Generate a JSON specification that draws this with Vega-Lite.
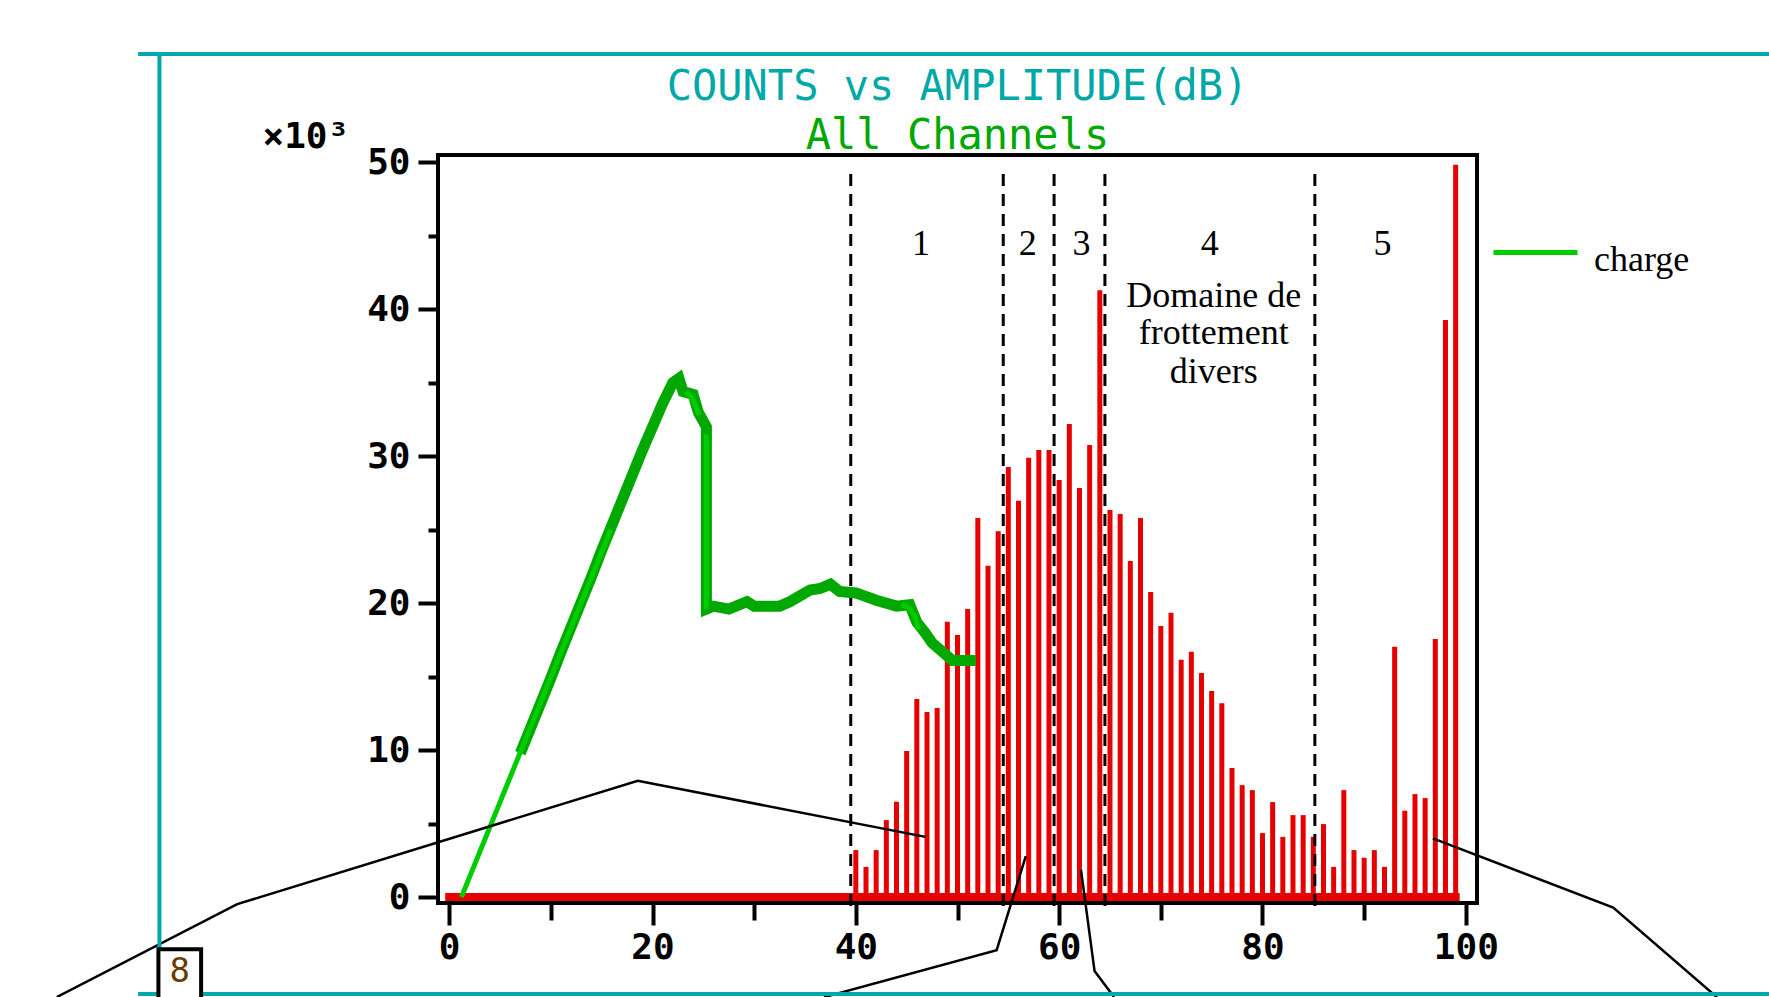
{
  "$schema": "https://vega.github.io/schema/vega-lite/v6.json",
  "width": 1039,
  "height": 748,
  "autosize": {"type": "none"},
  "padding": {"left": 438, "top": 155, "right": 292, "bottom": 94},
  "background": "white",
  "config": {"view": {"stroke": "black", "strokeWidth": 4}},
  "title": {
    "text": "COUNTS vs AMPLITUDE(dB)",
    "subtitle": "All Channels",
    "color": "#00A8A8",
    "subtitleColor": "#00A800",
    "font": "DejaVu Sans Mono",
    "subtitleFont": "DejaVu Sans Mono",
    "fontSize": 42,
    "subtitleFontSize": 42,
    "fontWeight": "normal",
    "subtitleFontWeight": "normal",
    "anchor": "middle",
    "frame": "group",
    "offset": -112,
    "subtitlePadding": 7
  },
  "datasets": {
    "bars": [
      {"amp":0,"count":0},{"amp":1,"count":0},{"amp":2,"count":0},{"amp":3,"count":0},{"amp":4,"count":0},
      {"amp":5,"count":0},{"amp":6,"count":0},{"amp":7,"count":0},{"amp":8,"count":0},{"amp":9,"count":0},
      {"amp":10,"count":0},{"amp":11,"count":0},{"amp":12,"count":0},{"amp":13,"count":0},{"amp":14,"count":0},
      {"amp":15,"count":0},{"amp":16,"count":0},{"amp":17,"count":0},{"amp":18,"count":0},{"amp":19,"count":0},
      {"amp":20,"count":0},{"amp":21,"count":0},{"amp":22,"count":0},{"amp":23,"count":0},{"amp":24,"count":0},
      {"amp":25,"count":0},{"amp":26,"count":0},{"amp":27,"count":0},{"amp":28,"count":0},{"amp":29,"count":0},
      {"amp":30,"count":0},{"amp":31,"count":0},{"amp":32,"count":0},{"amp":33,"count":0},{"amp":34,"count":0},
      {"amp":35,"count":0},{"amp":36,"count":0},{"amp":37,"count":0},{"amp":38,"count":0},{"amp":39,"count":0},
      {"amp":40,"count":3.2},{"amp":41,"count":2.06},{"amp":42,"count":3.2},{"amp":43,"count":5.24},{"amp":44,"count":6.49},
      {"amp":45,"count":9.94},{"amp":46,"count":13.48},{"amp":47,"count":12.6},{"amp":48,"count":12.87},{"amp":49,"count":18.74},
      {"amp":50,"count":17.84},{"amp":51,"count":19.6},{"amp":52,"count":25.8},{"amp":53,"count":22.55},{"amp":54,"count":24.9},
      {"amp":55,"count":29.27},{"amp":56,"count":26.98},{"amp":57,"count":29.9},{"amp":58,"count":30.43},{"amp":59,"count":30.43},
      {"amp":60,"count":28.39},{"amp":61,"count":32.2},{"amp":62,"count":27.84},{"amp":63,"count":30.77},{"amp":64,"count":41.3},
      {"amp":65,"count":26.34},{"amp":66,"count":26.07},{"amp":67,"count":22.87},{"amp":68,"count":25.8},{"amp":69,"count":20.76},
      {"amp":70,"count":18.45},{"amp":71,"count":19.35},{"amp":72,"count":16.15},{"amp":73,"count":16.7},{"amp":74,"count":15.25},
      {"amp":75,"count":14.02},{"amp":76,"count":13.2},{"amp":77,"count":8.78},{"amp":78,"count":7.62},{"amp":79,"count":7.28},
      {"amp":80,"count":4.36},{"amp":81,"count":6.47},{"amp":82,"count":4.1},{"amp":83,"count":5.58},{"amp":84,"count":5.58},
      {"amp":85,"count":4.1},{"amp":86,"count":4.97},{"amp":87,"count":2.06},{"amp":88,"count":7.28},{"amp":89,"count":3.2},
      {"amp":90,"count":2.68},{"amp":91,"count":3.2},{"amp":92,"count":2.06},{"amp":93,"count":17.04},{"amp":94,"count":5.88},
      {"amp":95,"count":7.01},{"amp":96,"count":6.74},{"amp":97,"count":17.56},{"amp":98,"count":39.28},{"amp":99,"count":49.83}
    ],
    "charge_dark": [
      {"o":1,"amp":7,"k":9.8},{"o":2,"amp":8,"k":11.5},{"o":3,"amp":9,"k":13.2},{"o":4,"amp":10,"k":14.9},
      {"o":5,"amp":11,"k":16.7},{"o":6,"amp":12,"k":18.4},{"o":7,"amp":13,"k":20.1},{"o":8,"amp":14,"k":21.8},
      {"o":9,"amp":15,"k":23.6},{"o":10,"amp":16,"k":25.3},{"o":11,"amp":17,"k":27.0},{"o":12,"amp":18,"k":28.7},
      {"o":13,"amp":19,"k":30.4},{"o":14,"amp":20,"k":32.0},{"o":15,"amp":21,"k":33.6},{"o":16,"amp":22,"k":35.0},
      {"o":17,"amp":22.6,"k":35.3},{"o":18,"amp":23,"k":34.4},{"o":19,"amp":24,"k":34.2},{"o":20,"amp":24.5,"k":33.0},
      {"o":21,"amp":25.3,"k":32.0},{"o":22,"amp":25.3,"k":19.6},{"o":23,"amp":26,"k":19.8},{"o":24,"amp":27.5,"k":19.6},
      {"o":25,"amp":29.3,"k":20.1},{"o":26,"amp":30,"k":19.8},{"o":27,"amp":32.5,"k":19.8},{"o":28,"amp":33.5,"k":20.1},
      {"o":29,"amp":34.5,"k":20.5},{"o":30,"amp":35.5,"k":20.9},{"o":31,"amp":36.5,"k":21.0},{"o":32,"amp":37.5,"k":21.3},
      {"o":33,"amp":38.4,"k":20.8},{"o":34,"amp":40,"k":20.7},{"o":35,"amp":42,"k":20.2},{"o":36,"amp":44,"k":19.8},
      {"o":37,"amp":45.3,"k":19.9},{"o":38,"amp":46,"k":18.7},{"o":39,"amp":46.8,"k":18.0},{"o":40,"amp":47.5,"k":17.3},
      {"o":41,"amp":48.5,"k":16.7},{"o":42,"amp":49.5,"k":16.1},{"o":43,"amp":51.8,"k":16.1}
    ],
    "charge_bright": [
      {"seg":"a","o":1,"amp":1.2,"k":0},{"seg":"a","o":2,"amp":15.9,"k":25.0},
      {"seg":"b","o":1,"amp":23.3,"k":34.4},{"seg":"b","o":2,"amp":24.0,"k":33.8},{"seg":"b","o":3,"amp":24.6,"k":32.8},
      {"seg":"c","o":1,"amp":25.3,"k":31.5},{"seg":"c","o":2,"amp":25.3,"k":19.6},
      {"seg":"d","o":1,"amp":44.5,"k":19.9},{"seg":"d","o":2,"amp":45.2,"k":19.7},{"seg":"d","o":3,"amp":45.8,"k":19.1},{"seg":"d","o":4,"amp":46.2,"k":18.2}
    ],
    "callouts": [
      {"g":1,"o":1,"amp":46.85,"k":4.1},{"g":1,"o":2,"amp":18.55,"k":7.92},{"g":1,"o":3,"amp":-20.85,"k":-0.48},{"g":1,"o":4,"amp":-38.6,"k":-6.8},
      {"g":2,"o":1,"amp":56.72,"k":2.79},{"g":2,"o":2,"amp":53.85,"k":-3.61},{"g":2,"o":3,"amp":36.87,"k":-6.81},
      {"g":3,"o":1,"amp":62.15,"k":1.84},{"g":3,"o":2,"amp":63.48,"k":-5.02},{"g":3,"o":3,"amp":65.4,"k":-6.8},
      {"g":4,"o":1,"amp":96.76,"k":4.0},{"g":4,"o":2,"amp":114.5,"k":-0.71},{"g":4,"o":3,"amp":124.7,"k":-6.81}
    ],
    "frame": [
      {"g":"top","o":1,"amp":-30.6,"k":57.38},{"g":"top","o":2,"amp":131,"k":57.38},
      {"g":"left","o":1,"amp":-28.5,"k":57.38},{"g":"left","o":2,"amp":-28.5,"k":-7.5},
      {"g":"bottom","o":1,"amp":-30.6,"k":-6.59},{"g":"bottom","o":2,"amp":131,"k":-6.59}
    ]
  },
  "layer": [
    {
      "data": {"name": "bars"},
      "mark": {"type": "rule", "strokeWidth": 5, "color": "#E60000"},
      "encoding": {
        "x": {
          "field": "amp", "type": "quantitative",
          "scale": {"domain": [-1.1, 101.1], "nice": false, "zero": false},
          "axis": {
            "values": [0,10,20,30,40,50,60,70,80,90,100],
            "labelExpr": "datum.value % 20 === 0 ? datum.label : ''",
            "tickSize": {"condition": {"test": "datum.value % 20 === 0", "value": 22}, "value": 17},
            "tickWidth": 4, "tickColor": "black", "domain": false, "grid": false,
            "labelFont": "DejaVu Sans Mono", "labelFontWeight": "bold", "labelFontSize": 36,
            "labelColor": "black", "labelPadding": 5, "labelFlush": false, "labelOverlap": false,
            "title": null
          }
        },
        "y": {
          "field": "count", "type": "quantitative",
          "scale": {"domain": [-0.4, 50.5], "nice": false, "zero": false},
          "axis": {
            "values": [0,5,10,15,20,25,30,35,40,45,50],
            "labelExpr": "datum.value % 10 === 0 ? datum.label : ''",
            "tickSize": {"condition": {"test": "datum.value % 10 === 0", "value": 20}, "value": 10},
            "tickWidth": 4, "tickColor": "black", "domain": false, "grid": false,
            "labelFont": "DejaVu Sans Mono", "labelFontWeight": "bold", "labelFontSize": 36,
            "labelColor": "black", "labelPadding": 8, "labelFlush": false, "labelOverlap": false,
            "title": "×10³", "titleAngle": 0, "titleAlign": "left", "titleBaseline": "alphabetic",
            "titleX": -176, "titleY": -8, "titleFont": "DejaVu Sans Mono", "titleFontWeight": "bold",
            "titleFontSize": 36, "titleColor": "black"
          }
        },
        "y2": {"datum": 0}
      }
    },
    {
      "data": {"name": "bars"},
      "mark": {"type": "rule", "strokeWidth": 8, "color": "#E60000", "strokeCap": "square"},
      "encoding": {
        "x": {"aggregate": "min", "field": "amp", "type": "quantitative"},
        "x2": {"aggregate": "max", "field": "amp"},
        "y": {"datum": 0, "type": "quantitative"}
      }
    },
    {
      "data": {"values": [{"db": 39.5}, {"db": 54.5}, {"db": 59.5}, {"db": 64.5}, {"db": 85.15}]},
      "mark": {"type": "rule", "strokeWidth": 3, "color": "black", "strokeDash": [12, 8]},
      "encoding": {
        "x": {"field": "db", "type": "quantitative"},
        "y": {"datum": -0.6, "type": "quantitative"},
        "y2": {"datum": 49.3}
      }
    },
    {
      "data": {"values": [
        {"t": "1", "db": 46.4, "k": 43.7},
        {"t": "2", "db": 56.9, "k": 43.7},
        {"t": "3", "db": 62.2, "k": 43.7},
        {"t": "4", "db": 74.8, "k": 43.7},
        {"t": "5", "db": 91.8, "k": 43.7},
        {"t": "Domaine de", "db": 75.2, "k": 40.18},
        {"t": "frottement", "db": 75.2, "k": 37.64},
        {"t": "divers", "db": 75.2, "k": 34.97}
      ]},
      "mark": {"type": "text", "font": "Liberation Serif", "fontSize": 36, "color": "black", "align": "center", "baseline": "alphabetic"},
      "encoding": {
        "x": {"field": "db", "type": "quantitative"},
        "y": {"field": "k", "type": "quantitative"},
        "text": {"field": "t"}
      }
    },
    {
      "data": {"name": "charge_dark"},
      "mark": {"type": "line", "strokeWidth": 11, "color": "#00A800", "clip": false},
      "encoding": {
        "x": {"field": "amp", "type": "quantitative"},
        "y": {"field": "k", "type": "quantitative"},
        "order": {"field": "o"}
      }
    },
    {
      "data": {"name": "charge_bright"},
      "mark": {"type": "line", "strokeWidth": 5, "clip": false},
      "encoding": {
        "x": {"field": "amp", "type": "quantitative"},
        "y": {"field": "k", "type": "quantitative"},
        "detail": {"field": "seg"},
        "order": {"field": "o"},
        "color": {
          "datum": "charge",
          "scale": {"range": ["#00CC00"]},
          "legend": {
            "orient": "none", "legendX": 1053, "legendY": 53, "title": null,
            "symbolType": "stroke", "symbolSize": 7056, "symbolStrokeWidth": 5,
            "labelFont": "Liberation Serif", "labelFontSize": 36, "labelColor": "black",
            "labelOffset": 14, "labelLimit": 300,
            "encode": {"labels": {"update": {"dy": {"value": 7}}}}
          }
        }
      }
    },
    {
      "data": {"name": "callouts"},
      "mark": {"type": "line", "strokeWidth": 2.5, "color": "black", "clip": false},
      "encoding": {
        "x": {"field": "amp", "type": "quantitative"},
        "y": {"field": "k", "type": "quantitative"},
        "detail": {"field": "g"},
        "order": {"field": "o"}
      }
    },
    {
      "data": {"name": "frame"},
      "mark": {"type": "line", "strokeWidth": 4, "color": "#00A8A8", "clip": false},
      "encoding": {
        "x": {"field": "amp", "type": "quantitative"},
        "y": {"field": "k", "type": "quantitative"},
        "detail": {"field": "g"},
        "order": {"field": "o"}
      }
    },
    {
      "data": {"values": [{"x1": -28.6, "x2": -24.4, "y1": -3.54, "y2": -7.2}]},
      "mark": {"type": "rect", "fill": "white", "stroke": "black", "strokeWidth": 4, "clip": false},
      "encoding": {
        "x": {"field": "x1", "type": "quantitative"},
        "x2": {"field": "x2"},
        "y": {"field": "y1", "type": "quantitative"},
        "y2": {"field": "y2"}
      }
    },
    {
      "data": {"values": [{"t": "8", "x": -26.5, "y": -5.1}]},
      "mark": {"type": "text", "font": "DejaVu Sans Mono", "fontSize": 34, "color": "#6B3A00", "align": "center", "baseline": "middle", "clip": false},
      "encoding": {
        "x": {"field": "x", "type": "quantitative"},
        "y": {"field": "y", "type": "quantitative"},
        "text": {"field": "t"}
      }
    }
  ]
}
